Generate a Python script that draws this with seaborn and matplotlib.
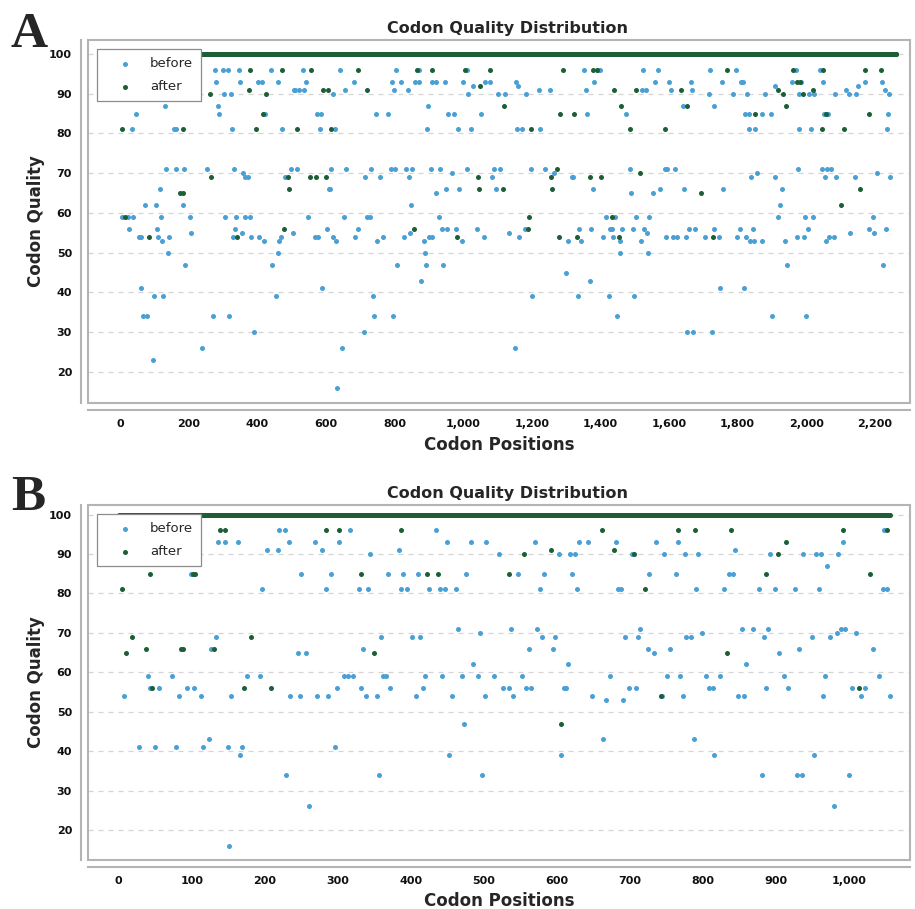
import matplotlib
matplotlib.use("Agg")
import matplotlib.pyplot as plt
from matplotlib.patches import Rectangle
from matplotlib.ticker import FuncFormatter
import numpy as np
import pandas as pd
import seaborn as sns

# number of codons in each gene (the after series sits at 100 everywhere else)
n_codons_a = 2261
n_codons_b = 1055

# (codon position, quality)
a_before = [
    (7, 59), (24, 59), (26, 56), (36, 81), (39, 59), (46, 85), (55, 54), (61, 54), (62, 41), (66, 34),
    (72, 62), (79, 34), (96, 23), (99, 39), (105, 62), (107, 56), (111, 54), (116, 66), (120, 59), (123, 53),
    (126, 39), (131, 87), (134, 71), (140, 50), (143, 54), (157, 81), (163, 81), (164, 71), (183, 62), (186, 71),
    (189, 47), (203, 59), (207, 55), (239, 26), (254, 71), (272, 34), (277, 96), (281, 93), (287, 87), (290, 85),
    (299, 96), (303, 90), (307, 59), (314, 96), (318, 34), (324, 90), (326, 81), (329, 54), (332, 71), (335, 56),
    (338, 59), (347, 96), (349, 93), (356, 55), (359, 70), (363, 69), (365, 59), (374, 69), (378, 59), (383, 54),
    (392, 30), (401, 93), (406, 54), (413, 93), (419, 53), (422, 85), (440, 96), (442, 47), (454, 39), (461, 93),
    (462, 50), (464, 53), (469, 54), (473, 81), (482, 69), (497, 71), (504, 55), (508, 91),
    (511, 91), (515, 71), (522, 91), (533, 96), (537, 91), (542, 93), (549, 59), (568, 54), (575, 85), (578, 54),
    (582, 81), (587, 85), (589, 41), (602, 56), (608, 66), (613, 66), (615, 71), (620, 54), (622, 90), (626, 81),
    (629, 53), (632, 16), (641, 96), (647, 26), (653, 59), (656, 91), (659, 71), (683, 93), (686, 54), (695, 56),
    (710, 30), (713, 69), (721, 59), (728, 59), (733, 71), (737, 39), (740, 34), (746, 85), (749, 53), (758, 69),
    (766, 54), (782, 85), (790, 71), (794, 93), (797, 34), (800, 91), (802, 71), (805, 96), (808, 47), (820, 93),
    (827, 54), (833, 71), (838, 91), (841, 69), (844, 55), (847, 62), (851, 71), (861, 93), (872, 93), (872, 96),
    (877, 43), (886, 53), (890, 50), (893, 47), (895, 81), (899, 87), (902, 54), (905, 71), (909, 54), (909, 93),
    (921, 93), (922, 65), (929, 59), (932, 71), (938, 56), (941, 47), (946, 93), (949, 66), (952, 56), (955, 85),
    (967, 70), (974, 85), (980, 56), (985, 81), (988, 66), (997, 53), (1000, 93), (1010, 71), (1012, 96), (1015, 90),
    (1024, 81), (1030, 92), (1040, 56), (1051, 85), (1060, 54), (1065, 93), (1078, 93), (1084, 69), (1090, 71),
    (1096, 66), (1102, 90), (1108, 71),
    (1123, 90), (1135, 55), (1150, 26), (1153, 93), (1157, 81), (1159, 92), (1162, 54), (1172, 81), (1180, 56),
    (1183, 90), (1198, 71), (1201, 39), (1222, 91), (1225, 81), (1240, 71), (1252, 91), (1266, 70), (1299, 45),
    (1306, 53), (1317, 69), (1321, 69), (1336, 39), (1338, 56), (1342, 53), (1351, 96), (1357, 91), (1360, 85),
    (1369, 43), (1374, 56), (1378, 66), (1381, 93), (1394, 96), (1400, 96), (1407, 54), (1417, 59), (1426, 39),
    (1429, 56), (1435, 56), (1438, 54), (1442, 59), (1449, 34), (1456, 53), (1458, 50), (1462, 56), (1474, 85),
    (1485, 71), (1489, 65), (1495, 56), (1497, 39), (1504, 59), (1519, 53), (1522, 91), (1525, 96), (1527, 56),
    (1534, 91), (1537, 55), (1540, 50), (1543, 59), (1554, 65), (1560, 93), (1567, 96), (1573, 66), (1589, 71),
    (1590, 54), (1595, 71), (1599, 93), (1606, 91), (1612, 54), (1616, 71), (1623, 54), (1640, 87), (1644, 66),
    (1648, 54), (1651, 30), (1657, 56), (1665, 93), (1668, 91), (1671, 30), (1675, 56), (1704, 54), (1716, 90),
    (1719, 96), (1725, 30), (1730, 56), (1731, 87),
    (1747, 54), (1749, 41), (1753, 93), (1756, 66), (1785, 90), (1795, 96), (1798, 54), (1807, 56), (1809, 93),
    (1815, 93), (1818, 41), (1820, 85), (1825, 54), (1827, 90), (1832, 85), (1833, 81), (1836, 53), (1839, 69),
    (1845, 56), (1848, 53), (1851, 81), (1857, 70), (1870, 53), (1871, 85), (1881, 90), (1896, 85), (1899, 34),
    (1908, 69), (1910, 92), (1917, 59), (1923, 62), (1930, 66), (1938, 53), (1944, 47), (1959, 93), (1970, 96),
    (1973, 54), (1976, 71), (1979, 81), (1980, 90), (1985, 93), (1992, 54), (1995, 59), (1998, 34), (2004, 56),
    (2007, 90), (2015, 81), (2019, 59), (2023, 90), (2040, 96), (2046, 71), (2048, 93), (2052, 85), (2055, 69),
    (2057, 53), (2061, 71), (2064, 85), (2067, 54), (2073, 71), (2081, 54), (2084, 90), (2087, 69), (2115, 91),
    (2123, 90), (2127, 55), (2142, 69), (2145, 90), (2150, 92), (2172, 93), (2184, 56), (2195, 59), (2198, 55),
    (2205, 70), (2220, 93), (2223, 47), (2228, 91), (2231, 56), (2234, 81), (2238, 85), (2241, 90), (2244, 69),
]

a_after = [
    (6, 81), (15, 59), (84, 54), (174, 65), (183, 65), (184, 81), (262, 90), (266, 69), (341, 54), (377, 91),
    (380, 96), (395, 81), (416, 85), (425, 90), (473, 96), (478, 56), (490, 69), (493, 66), (515, 81), (554, 69),
    (557, 96), (572, 69), (592, 91), (599, 69), (606, 91), (615, 81), (693, 96), (719, 91), (856, 56), (866, 96),
    (910, 96), (982, 54), (1004, 96), (1043, 69), (1046, 66), (1049, 92), (1078, 96), (1116, 66), (1118, 87),
    (1190, 56), (1193, 59), (1198, 81), (1255, 69), (1259, 66), (1273, 71), (1279, 54), (1282, 85), (1291, 96),
    (1324, 85), (1333, 54), (1371, 69), (1379, 96), (1391, 96), (1402, 69), (1433, 59), (1441, 91), (1453, 54),
    (1459, 87), (1486, 81), (1503, 91), (1514, 70), (1587, 81), (1635, 91), (1651, 87), (1692, 65), (1727, 54),
    (1770, 96), (1849, 85), (1917, 91), (1932, 90), (1941, 87), (1962, 96), (1973, 93), (1981, 93), (1989, 90),
    (2019, 91), (2046, 81), (2049, 96), (2057, 85), (2100, 62), (2109, 81), (2157, 66), (2171, 96), (2184, 85),
    (2217, 96),
]

b_before = [
    (7, 54), (28, 41), (40, 59), (43, 56), (49, 41), (55, 56), (73, 59), (79, 41), (82, 54), (94, 56),
    (99, 85), (103, 56), (112, 54), (115, 41), (124, 43), (127, 66), (133, 69), (136, 93), (145, 93), (149, 41),
    (151, 16), (154, 54), (163, 93), (166, 39), (169, 41), (176, 59), (193, 59), (196, 81), (203, 91), (218, 91),
    (220, 96), (227, 96), (229, 34), (233, 93), (235, 54),
    (245, 65), (248, 54), (250, 85), (257, 65), (260, 26), (269, 93), (272, 54), (278, 91), (284, 81), (287, 54),
    (290, 85), (296, 41), (299, 56), (302, 93), (308, 59), (314, 59), (317, 96), (320, 59), (329, 81), (332, 56),
    (335, 66), (338, 54), (341, 81), (344, 90), (353, 54), (356, 34), (359, 69), (362, 59), (366, 59), (368, 85),
    (372, 56), (383, 91), (386, 81), (389, 85), (395, 81), (401, 69), (407, 54), (410, 85), (413, 69), (416, 56),
    (419, 59), (425, 81), (434, 96), (440, 81), (443, 59), (446, 81), (450, 93), (452, 39), (456, 54), (461, 81),
    (464, 71), (470, 59), (473, 47), (476, 85), (482, 93), (485, 62), (492, 59), (494, 70), (497, 34), (501, 54),
    (503, 93), (513, 59), (521, 90), (526, 56),
    (534, 56), (537, 71), (540, 54), (546, 85), (552, 59), (558, 56), (561, 66), (564, 56), (570, 93), (573, 71),
    (576, 81), (579, 69), (582, 85), (594, 66), (597, 69), (603, 90), (606, 39), (609, 56), (612, 56), (615, 62),
    (618, 90), (621, 85), (624, 90), (627, 81), (630, 93), (642, 93), (648, 54), (663, 43), (667, 53), (672, 59),
    (681, 93), (683, 81), (687, 81), (690, 53), (693, 69), (699, 56), (702, 90), (708, 56), (711, 69), (714, 71),
    (724, 66), (726, 85), (732, 65), (735, 93), (744, 54), (747, 90), (750, 59), (754, 66), (763, 85), (766, 93),
    (768, 59), (772, 54), (775, 90), (777, 69), (783, 69), (787, 43), (790, 81), (793, 90), (798, 70), (804, 59),
    (808, 56), (813, 56), (815, 39),
    (823, 59), (829, 81), (835, 85), (841, 85), (844, 91), (847, 54), (853, 71), (856, 54), (859, 62), (868, 71),
    (877, 81), (880, 34), (883, 69), (886, 56), (889, 71), (892, 90), (898, 81), (904, 65), (910, 59), (916, 56),
    (925, 81), (928, 34), (931, 66), (935, 34), (937, 90), (949, 69), (952, 39), (955, 90), (958, 81), (961, 90),
    (964, 54), (967, 59), (970, 87), (973, 69), (979, 26), (983, 70), (985, 90), (988, 71), (992, 93), (994, 71),
    (1000, 34), (1004, 56), (1009, 70), (1016, 54), (1022, 56), (1033, 66), (1040, 59), (1046, 81), (1048, 96),
    (1051, 81), (1055, 54),
]

b_after = [
    (4, 81), (10, 65), (18, 69), (37, 66), (43, 85), (45, 56), (85, 66), (88, 66), (102, 85), (104, 85),
    (109, 91), (130, 66), (139, 96), (145, 96), (172, 56), (181, 69), (209, 56), (284, 96), (302, 96), (332, 85),
    (350, 65), (387, 96), (422, 85), (437, 85), (534, 85), (555, 90), (591, 91), (606, 47), (661, 96), (678, 91),
    (705, 90), (720, 81), (742, 54), (766, 96), (789, 96), (832, 65), (838, 96), (886, 85), (902, 90), (913, 93),
    (992, 96), (1013, 56), (1028, 85), (1051, 96),
]

stages = ["before", "after"]
stage_colors = {"before": "#4a9fd5", "after": "#1d5e37"}
y_ticks = [20, 30, 40, 50, 60, 70, 80, 90, 100]
a_x_ticks = list(range(0, 2201, 200))
b_x_ticks = list(range(0, 1001, 100))

GRAY = "#b4b4b4"


def build_frame(before, after, n_codons):
    before_df = pd.DataFrame(before, columns=["position", "quality"])
    before_df["stage"] = "before"
    low = dict(after)
    pos = np.arange(1, n_codons + 1)
    after_df = pd.DataFrame({"position": pos,
                             "quality": [low.get(p, 100) for p in pos]})
    after_df["stage"] = "after"
    return pd.concat([before_df, after_df], ignore_index=True)


def draw_panel(ax, df, xlim, ylim, xticks):
    for stage in stages:
        sub = df[df["stage"] == stage]
        sns.scatterplot(data=sub, x="position", y="quality", color=stage_colors[stage],
                        s=13, linewidth=0, label=stage, legend=False, ax=ax, zorder=3)

    ax.set_xlim(*xlim)
    ax.set_ylim(*ylim)
    ax.set_xticks(xticks)
    ax.set_yticks(y_ticks)
    ax.xaxis.set_major_formatter(FuncFormatter(lambda v, p: f"{int(v):,}"))
    ax.grid(axis="y", color="#d4d4d4", linestyle=(0, (4, 4)), linewidth=0.9)
    ax.grid(axis="x", visible=False)
    ax.set_axisbelow(True)

    for side in ["top", "right"]:
        ax.spines[side].set_visible(False)
    for side in ["left", "bottom"]:
        ax.spines[side].set_position(("outward", 5))
        ax.spines[side].set_color(GRAY)
        ax.spines[side].set_linewidth(1.5)
    ax.add_patch(Rectangle((0, 0), 1, 1, transform=ax.transAxes, fill=False,
                           edgecolor=GRAY, linewidth=1.5, clip_on=False, zorder=5))

    ax.tick_params(axis="both", direction="out", length=4, width=1, color=GRAY,
                   labelsize=8, labelcolor="#111111", pad=2.5)
    for lab in ax.get_xticklabels() + ax.get_yticklabels():
        lab.set_fontweight("bold")

    ax.set_title("Codon Quality Distribution", fontsize=11.5, fontweight="bold", x=0.51, pad=5)
    ax.set_xlabel("Codon Positions", fontsize=12, fontweight="bold")
    ax.set_ylabel("Codon Quality", fontsize=12, fontweight="bold")
    ax.xaxis.set_label_coords(0.5, -0.09)
    ax.yaxis.set_label_coords(-0.052, 0.5)

    leg = ax.legend(loc="upper left", fontsize=9.5, frameon=True, fancybox=False,
                    framealpha=1, edgecolor="#8c8c8c", handlelength=3.0,
                    handletextpad=0.4, borderpad=0.6, labelspacing=0.75,
                    borderaxespad=0.7, scatterpoints=1, markerscale=1.0)
    leg.get_frame().set_linewidth(0.9)
    leg.set_zorder(10)


sns.set_style("white")
plt.rcParams["font.family"] = ["DejaVu Sans"]

fig = plt.figure(figsize=(9.15, 9.09), dpi=100)
ax_a = fig.add_axes([0.0962, 0.5567, 0.8983, 0.3993])
ax_b = fig.add_axes([0.0962, 0.0539, 0.8983, 0.3905])

draw_panel(ax_a, build_frame(a_before, a_after, n_codons_a), (-93, 2302), (12.2, 103.5), a_x_ticks)
draw_panel(ax_b, build_frame(b_before, b_after, n_codons_b), (-42, 1083), (12.4, 102.4), b_x_ticks)

fig.text(0.012, 0.948, "A", fontsize=37, fontweight="bold", fontfamily=["Liberation Serif"])
fig.text(0.012, 0.439, "B", fontsize=37, fontweight="bold", fontfamily=["Liberation Serif"])

fig.savefig("out.png", dpi=100)
